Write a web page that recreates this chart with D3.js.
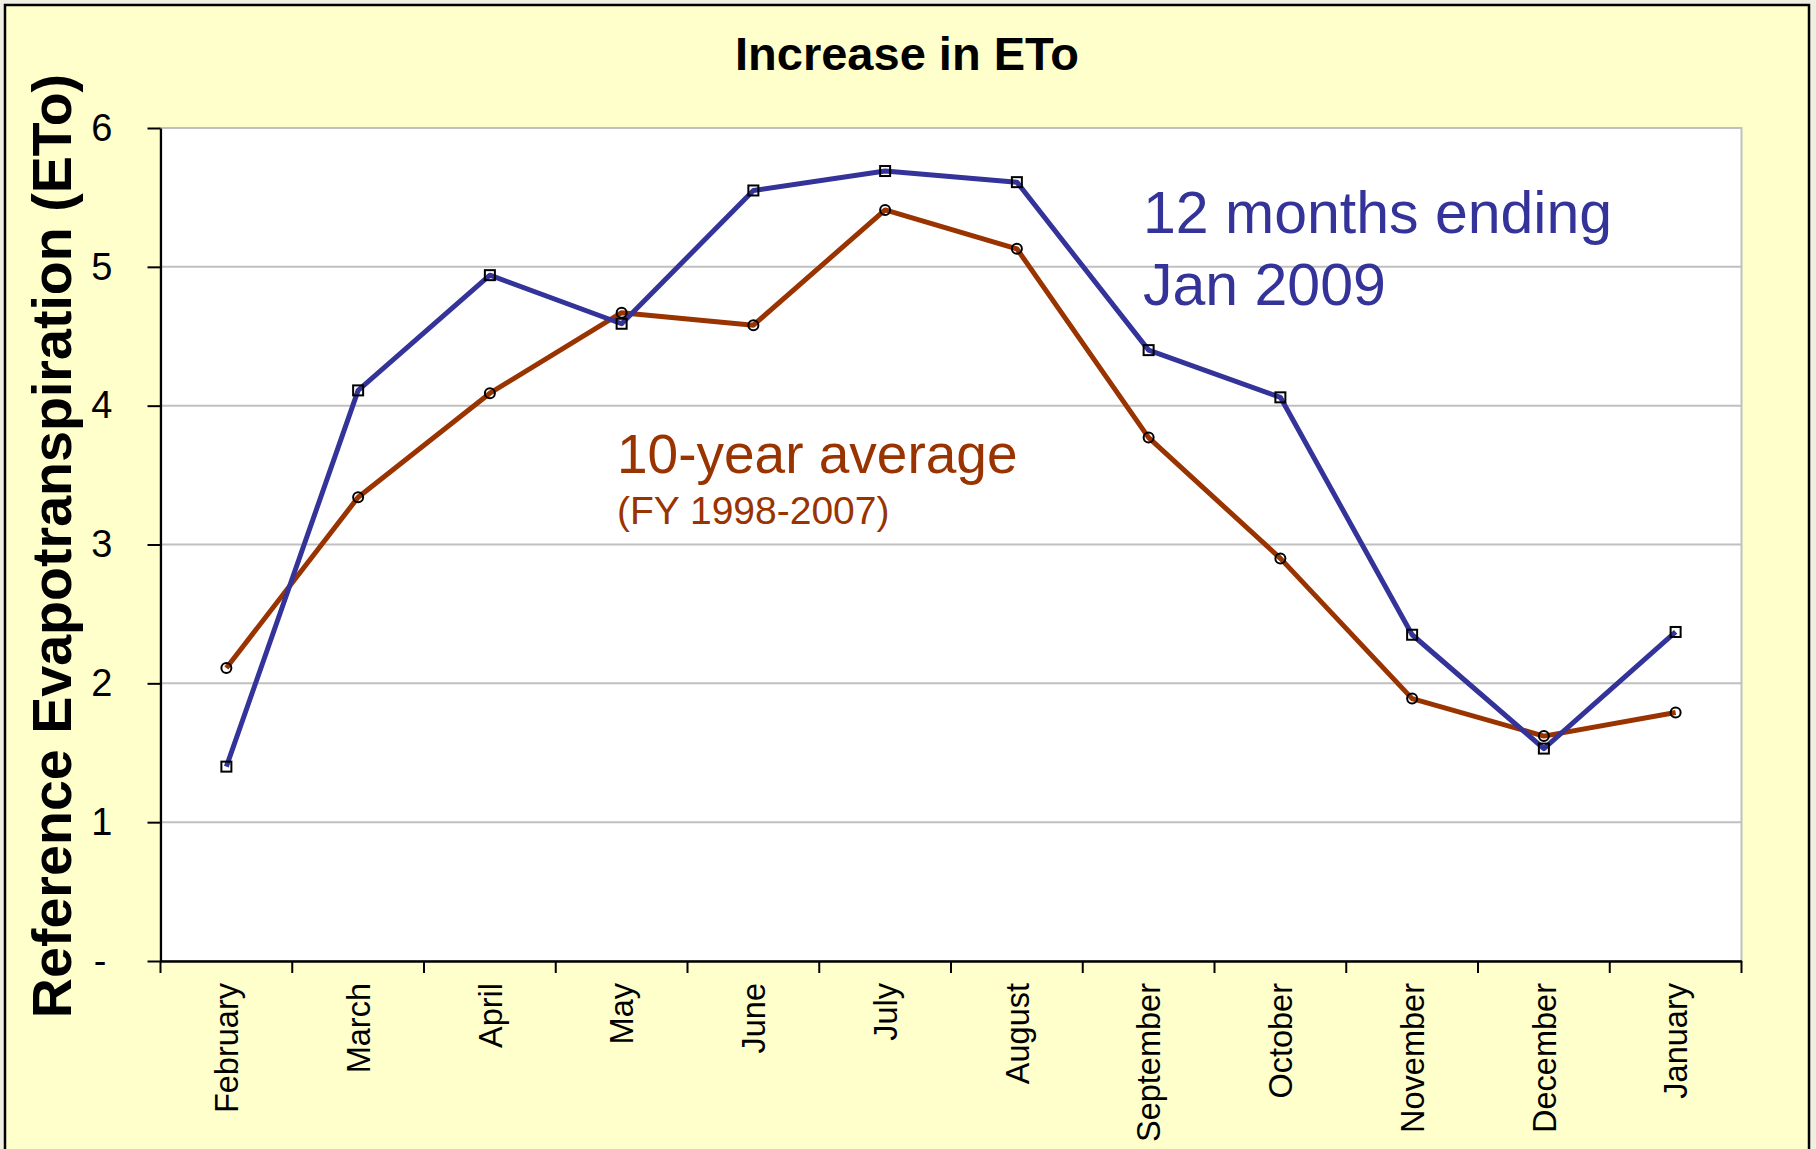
<!DOCTYPE html>
<html>
<head>
<meta charset="utf-8">
<script src="https://cdn.jsdelivr.net/npm/d3@7"></script>
<style>
  html, body { margin: 0; padding: 0; background: #efefe2; }
  svg { display: block; font-family: "Liberation Sans", Arial, sans-serif; }
</style>
</head>
<body>
<svg id="chart" width="1816" height="1149"></svg>
<script>
const months = ["February","March","April","May","June","July","August","September","October","November","December","January"];
const eto2009 = [1.40, 4.11, 4.94, 4.59, 5.55, 5.69, 5.61, 4.40, 4.06, 2.35, 1.53, 2.37];
const etoAvg = [2.11, 3.34, 4.09, 4.67, 4.58, 5.41, 5.13, 3.77, 2.90, 1.89, 1.62, 1.79];
const yTicks = [0, 1, 2, 3, 4, 5, 6];
const titleText = "Increase in ETo";
const yAxisTitle = "Reference Evapotranspiration (ETo)";

const svg = d3.select("#chart");
const W = 1816, H = 1149;
const plot = {left: 160.5, right: 1741.5, top: 128, bottom: 961};

svg.append("rect").attr("x", 0).attr("y", 0).attr("width", W).attr("height", H).attr("fill", "#efefe2");
svg.append("rect").attr("x", 5).attr("y", 5).attr("width", 1804).attr("height", 1200)
  .attr("fill", "#ffffcc").attr("stroke", "#000").attr("stroke-width", 2.5);

const x = d3.scaleBand().domain(months).range([plot.left, plot.right]).padding(0);
const y = d3.scaleLinear().domain([0, 6]).range([plot.bottom, plot.top]);
const cx = m => x(m) + x.bandwidth() / 2;

// plot area
svg.append("rect").attr("x", plot.left).attr("y", plot.top)
  .attr("width", plot.right - plot.left).attr("height", plot.bottom - plot.top)
  .attr("fill", "#fff").attr("stroke", "#c0c0c0").attr("stroke-width", 2);

// gridlines
svg.append("g").selectAll("line").data(yTicks.filter(d => d > 0)).join("line")
  .attr("x1", plot.left).attr("x2", plot.right)
  .attr("y1", d => y(d)).attr("y2", d => y(d))
  .attr("stroke", "#c0c0c0").attr("stroke-width", 2);

// y axis
const yAxis = d3.axisLeft(y).tickValues(yTicks).tickSizeInner(13).tickSizeOuter(0).tickPadding(35)
  .tickFormat(d => d === 0 ? "-" : d3.format("d")(d));
const gy = svg.append("g").attr("transform", `translate(${plot.left},0)`).call(yAxis);
gy.select(".domain").attr("stroke", "#000").attr("stroke-width", 2.2);
gy.selectAll(".tick line").attr("stroke", "#000").attr("stroke-width", 2);
gy.selectAll(".tick text").attr("font-size", 38).attr("fill", "#000")
  .attr("font-family", "Liberation Sans, Arial, sans-serif")
  .attr("dx", d => d === 0 ? -6 : 0);

// x axis
const xAxis = d3.axisBottom(x).tickSize(0).tickPadding(0);
const gx = svg.append("g").attr("transform", `translate(0,${plot.bottom})`).call(xAxis);
gx.select(".domain").attr("stroke", "#000").attr("stroke-width", 2.5);
gx.selectAll(".tick text")
  .attr("font-size", 32.5).attr("fill", "#000")
  .attr("font-family", "Liberation Sans, Arial, sans-serif")
  .attr("text-anchor", "end")
  .attr("transform", "rotate(-90)")
  .attr("x", -22).attr("y", 0).attr("dy", "0.36em");
// category boundary ticks
const edges = months.map(m => x(m)).concat([x(months[months.length - 1]) + x.bandwidth()]);
svg.append("g").selectAll("line").data(edges).join("line")
  .attr("x1", d => d).attr("x2", d => d)
  .attr("y1", plot.bottom).attr("y2", plot.bottom + 12)
  .attr("stroke", "#000").attr("stroke-width", 2);

// lines
const line = d3.line().x((d, i) => cx(months[i])).y(d => y(d));
svg.append("path").datum(etoAvg).attr("d", line)
  .attr("fill", "none").attr("stroke", "#993300").attr("stroke-width", 5).attr("stroke-linejoin", "round");
svg.append("path").datum(eto2009).attr("d", line)
  .attr("fill", "none").attr("stroke", "#333399").attr("stroke-width", 5).attr("stroke-linejoin", "round");

// markers
svg.append("g").selectAll("circle").data(etoAvg).join("circle")
  .attr("cx", (d, i) => cx(months[i])).attr("cy", d => y(d)).attr("r", 5)
  .attr("fill", "none").attr("stroke", "#000").attr("stroke-width", 2);
svg.append("g").selectAll("rect").data(eto2009).join("rect")
  .attr("x", (d, i) => cx(months[i]) - 5).attr("y", d => y(d) - 5)
  .attr("width", 10).attr("height", 10)
  .attr("fill", "none").attr("stroke", "#000").attr("stroke-width", 2);

// title
svg.append("text").attr("x", 907).attr("y", 70).attr("text-anchor", "middle")
  .attr("font-size", 47).attr("font-weight", "bold").attr("fill", "#000").text(titleText);

// y axis title
svg.append("text").attr("transform", "translate(71,546) rotate(-90)")
  .attr("text-anchor", "middle").attr("font-size", 55.6).attr("font-weight", "bold")
  .attr("fill", "#000").text(yAxisTitle);

// annotations
svg.append("text").attr("x", 1143).attr("y", 233).attr("font-size", 59).attr("fill", "#333399").text("12 months ending");
svg.append("text").attr("x", 1143).attr("y", 305).attr("font-size", 59).attr("fill", "#333399").text("Jan 2009");
svg.append("text").attr("x", 617).attr("y", 473).attr("font-size", 55).attr("fill", "#993300").text("10-year average");
svg.append("text").attr("x", 617).attr("y", 524).attr("font-size", 39).attr("fill", "#993300").text("(FY 1998-2007)");
</script>
</body>
</html>
